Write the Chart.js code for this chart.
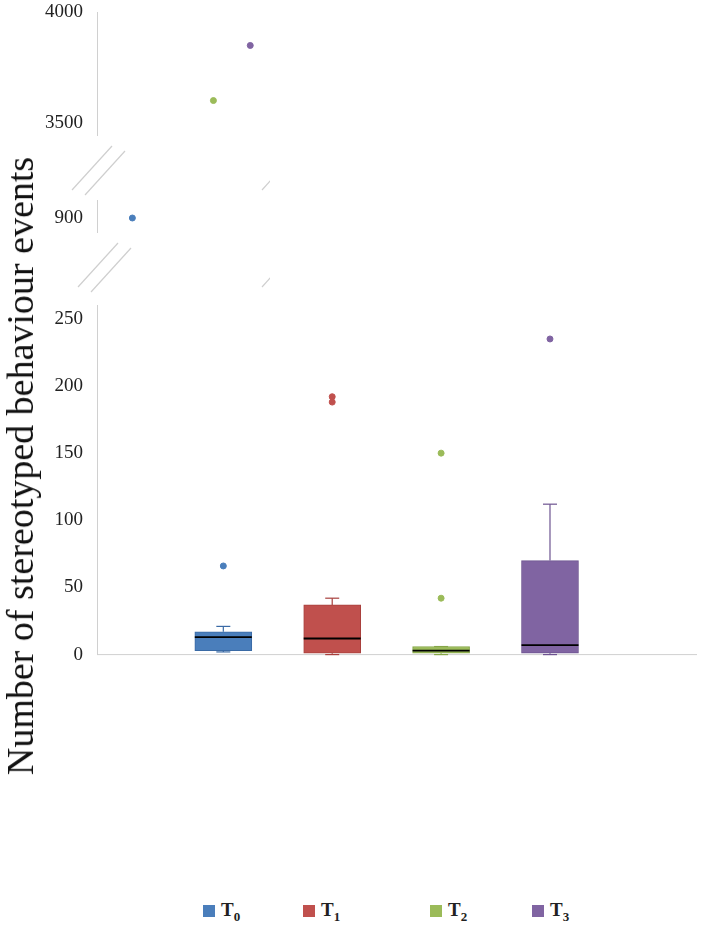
<!DOCTYPE html>
<html><head><meta charset="utf-8">
<script src="https://cdn.jsdelivr.net/npm/chart.js@4/dist/chart.umd.min.js"></script>
<style>
body{margin:0;background:#fff;width:702px;height:928px;position:relative;overflow:hidden;font-family:"Liberation Serif",serif}
canvas{position:absolute;left:0}
#title{position:absolute;left:20px;top:466px;transform:translate(-50%,-50%) rotate(-90deg);white-space:nowrap;font-size:38px;color:#111}
.lg{position:absolute;top:899px;font-size:19px;font-weight:bold;color:#222}
.lg i{display:inline-block;width:12px;height:12px;margin-right:6px;vertical-align:-1px}
.lg sub{font-size:13px}
</style></head><body>
<canvas id="cTop"></canvas>
<canvas id="cMid"></canvas>
<canvas id="cBot"></canvas>
<div id="title">Number of stereotyped behaviour events</div>
<div id="legend"></div>
<script>
const groups = ["T0", "T1", "T2", "T3"]
const xPos = [1, 2, 3, 4]
const whiskerLow = [2, 0, 0, 0]
const q1 = [3, 1, 1, 1]
const median = [13, 12, 3, 7]
const q3 = [17, 37, 6, 70]
const whiskerHigh = [21, 42, 6, 112]
const outliers = [[66, 900], [188, 192], [42, 150, 3600], [235, 3850]]
const topTicks = [3500, 4000]
const midTicks = [900]
const botTicks = [0, 50, 100, 150, 200, 250]
const fills = ["#4a7ebb", "#c0504d", "#9bbb59", "#8064a2"]
const edges = ["#3a6aa5", "#a8403d", "#86a648", "#6d5390"]

const W = 702
const xScale = { type: "linear", min: -0.16, max: 5.35, display: false, offset: false }

function scatterSet(lo, hi) {
  const pts = []
  outliers.forEach((arr, i) => arr.forEach((v) => { if (v >= lo && v <= hi) pts.push({ x: xPos[i], y: v, c: fills[i] }) }))
  return { type: "scatter", data: pts, pointRadius: 3, pointBackgroundColor: pts.map((p) => p.c), pointBorderColor: pts.map((p) => p.c) }
}
function yAxis(min, max, ticks) {
  return {
    min, max,
    afterFit: (s) => { s.width = 97 },
    afterBuildTicks: (s) => { s.ticks = ticks.map((v) => ({ value: v })) },
    ticks: { color: "#222", font: { family: "Liberation Serif", size: 19 }, padding: 14, callback: (v) => String(v) },
    grid: { display: false, drawTicks: false },
    border: { display: true, color: "#d0d0d0" },
  }
}
const base = { responsive: false, animation: false, plugins: { legend: { display: false }, tooltip: { enabled: false } } }

// place a chart so that its plot area spans areaTop..areaBottom on the page
function place(id, areaTop, areaBottom, config) {
  const c = document.getElementById(id)
  c.width = W; c.height = 400
  c.style.width = W + "px"; c.style.height = "400px"
  const chart = new Chart(c, config)
  const above = chart.chartArea.top
  const below = 400 - chart.chartArea.bottom
  const h = Math.round(above + below + areaBottom - areaTop)
  chart.resize(W, h)
  c.style.top = (areaTop - chart.chartArea.top) + "px"
  return chart
}

const breaksPlugin = {
  id: "breaks",
  afterDraw(chart) {
    const ctx = chart.ctx
    const off = chart.chartArea.top - 200
    ctx.save(); ctx.strokeStyle = "#cfcfcf"; ctx.lineWidth = 1.2
    ;[[168, [72, 262, 442]], [265, [78, 262, 445]]].forEach(([y, xs]) => {
      xs.forEach((x) => {
        for (const d of [0, 13]) {
          ctx.beginPath(); ctx.moveTo(x + d, y + off + 22 + (d ? 5 : 0)); ctx.lineTo(x + d + 40, y + off - 22 + (d ? 5 : 0)); ctx.stroke()
        }
      })
    })
    ctx.restore()
  },
}

const boxPlugin = {
  id: "boxes",
  afterDatasetsDraw(chart) {
    const ctx = chart.ctx, xs = chart.scales.x, ys = chart.scales.y
    const seg = (x1, y1, x2, y2) => { ctx.beginPath(); ctx.moveTo(x1, y1); ctx.lineTo(x2, y2); ctx.stroke() }
    ctx.save()
    ctx.strokeStyle = "#d0d0d0"; ctx.lineWidth = 1
    seg(chart.chartArea.left, chart.chartArea.bottom, chart.chartArea.right, chart.chartArea.bottom)
    xPos.forEach((x, i) => {
      const cx = xs.getPixelForValue(x), hw = 28.5
      ctx.strokeStyle = edges[i]; ctx.lineWidth = 1.2
      seg(cx, ys.getPixelForValue(q3[i]), cx, ys.getPixelForValue(whiskerHigh[i]))
      seg(cx, ys.getPixelForValue(q1[i]), cx, ys.getPixelForValue(whiskerLow[i]))
      seg(cx - 7, ys.getPixelForValue(whiskerHigh[i]), cx + 7, ys.getPixelForValue(whiskerHigh[i]))
      seg(cx - 7, ys.getPixelForValue(whiskerLow[i]), cx + 7, ys.getPixelForValue(whiskerLow[i]))
      ctx.strokeStyle = "#000"; ctx.lineWidth = 1.8
      seg(cx - hw, ys.getPixelForValue(median[i]), cx + hw, ys.getPixelForValue(median[i]))
    })
    ctx.restore()
  },
}

place("cTop", 12, 135, {
  data: { datasets: [scatterSet(3441, 4000)] },
  options: { ...base, layout: { padding: { top: 15, bottom: 5, right: 2 } },
    scales: { x: xScale, y: yAxis(3441, 4000, topTicks) } },
})

place("cMid", 200, 232, {
  data: { datasets: [scatterSet(886, 918)] },
  options: { ...base, layout: { padding: { top: 60, bottom: 62, right: 2 } },
    scales: { x: xScale, y: yAxis(886, 918, midTicks) } },
  plugins: [breaksPlugin],
})

place("cBot", 305, 879, {
  data: { datasets: [
    { type: "bar", data: xPos.map((x, i) => ({ x, y: [q1[i], q3[i]] })), backgroundColor: fills, borderColor: edges, borderWidth: 1, barThickness: 57, borderSkipped: false },
    scatterSet(0, 260),
  ] },
  options: { ...base, layout: { padding: { top: 15, bottom: 15, right: 2 } },
    scales: { x: xScale, y: yAxis(0, 260, botTicks) } },
  plugins: [boxPlugin],
})

const lgX = [203, 303, 430, 532]
const legend = document.getElementById("legend")
groups.forEach((g, i) => {
  const d = document.createElement("div")
  d.className = "lg"; d.style.left = lgX[i] + "px"
  d.innerHTML = `<i style="background:${fills[i]}"></i>${g[0]}<sub>${g.slice(1)}</sub>`
  legend.appendChild(d)
})
</script>
</body></html>
